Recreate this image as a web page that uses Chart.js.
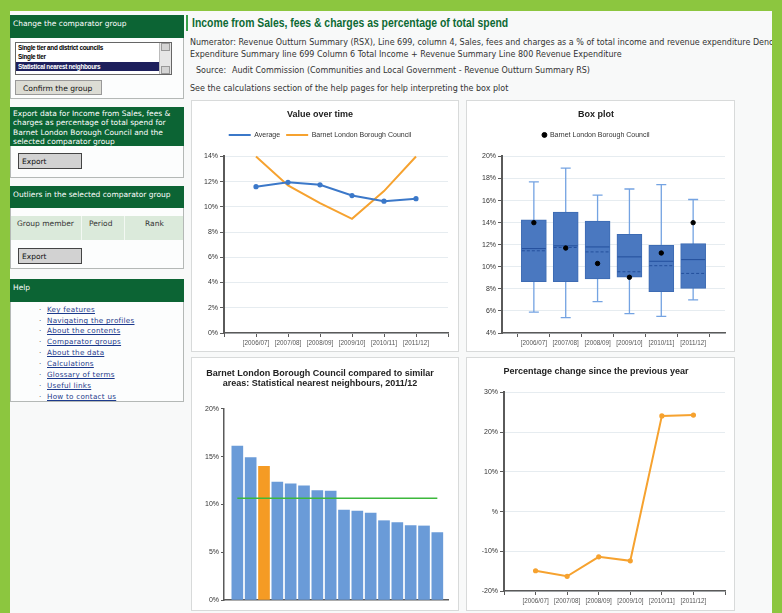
<!DOCTYPE html>
<html lang="en">
<head>
<meta charset="UTF-8">
<title>Income from Sales, fees & charges</title>
<style>
  body {
    margin: 0;
    width: 782px;
    height: 613px;
    background: #8cc63f;
    font-family: 'DejaVu Sans', Verdana, sans-serif;
    position: relative;
    overflow: hidden;
  }
  .page {
    position: absolute;
    left: 10px;
    top: 11px;
    width: 762px;
    height: 602px;
    background: #f8f9f9;
  }
  .side {
    position: absolute;
    left: 10px;
    width: 172px;
    background: #fcfdfd;
    border: 1px solid #b4b8b6;
    border-top: none;
  }
  .side .hd {
    background: #0c6434;
    color: #fff;
    font-size: 7.5px;
    padding: 4px 3px 0 3px;
    line-height: 9.4px;
    box-sizing: border-box;
    margin: 0 -1px;
  }
  .btn {
    position: absolute;
    background: #d2d2d2;
    border: 1px solid #444;
    font-size: 7.5px;
    color: #111;
    box-sizing: border-box;
    padding: 3px 0 0 3px;
  }
  .list {
    position: absolute;
    left: 4px;
    top: 27px;
    width: 157px;
    height: 33px;
    border: 1px solid #666;
    box-sizing: border-box;
    background: #fff;
    font-family: 'Liberation Sans', sans-serif;
    font-weight: bold;
    font-size: 6.4px;
    overflow: hidden;
  }
  .list .item { height: 9.3px; line-height: 9.3px; padding-left: 2px; letter-spacing: -0.3px; }
  .list .sel { background: #1d1f5c; color: #fff; margin-right: 11px; }
  .list .scroll {
    position: absolute; right: 0; top: 0; width: 11px; height: 31px;
    background: #e6e6e6; border-left: 1px solid #bbb;
  }
  .scroll span {
    position: absolute; left: 1px; width: 9px; height: 8px; background: #d4d4d4;
    border: 1px solid #999; box-sizing: border-box;
  }
  .help a {
    position: absolute;
    left: 36px;
    color: #1c3a8c;
    font-size: 7.2px;
    letter-spacing: 0.25px;
    text-decoration: underline;
  }
  .help a::before { content: '·'; position: absolute; left: -8px; color: #555; text-decoration: none; }
  .main-title {
    position: absolute;
    left: 186px;
    top: 15px;
    padding-left: 4px;
    border-left: 2px solid #3aa04a;
    font-family: 'Liberation Sans', Arial, sans-serif;
    font-weight: bold;
    font-size: 13px;
    color: #0d6a34;
    line-height: 16px;
    white-space: nowrap;
  }
  .main-title span { display: inline-block; transform: scaleX(0.8); transform-origin: left center; }
  .txt {
    position: absolute;
    left: 190px;
    font-size: 8px;
    color: #333;
    white-space: nowrap;
    line-height: 10px;
  }
  .panel {
    position: absolute;
    background: #fff;
    border: 1px solid #d8dada;
  }
  canvas { display: block; }
</style>
</head>
<body>
<div class="page"></div>

<!-- left column -->
<div class="side" style="top:15px;height:83px;">
  <div class="hd" style="height:23px;">Change the comparator group</div>
  <div class="list">
    <div class="item">Single tier and district councils</div>
    <div class="item">Single tier</div>
    <div class="item sel">Statistical nearest neighbours</div>
    <div class="scroll"><span style="top:0"></span><span style="top:23px"></span></div>
  </div>
  <div class="btn" style="left:4px;top:65px;width:87px;height:15px;border-color:#999;background:#dcdcd4;padding:3px 0 0 7px;font-size:7.6px;">Confirm the group</div>
</div>

<div class="side" style="top:107px;height:70px;">
  <div class="hd" style="height:39px;padding-top:2px;">Export data for Income from Sales, fees &amp; charges as percentage of total spend for Barnet London Borough Council and the selected comparator group</div>
  <div class="btn" style="left:7px;top:46px;width:64px;height:16px;">Export</div>
</div>

<div class="side" style="top:186px;height:82px;">
  <div class="hd" style="height:22px;">Outliers in the selected comparator group</div>
  <div style="position:absolute;left:0;top:30px;width:172px;height:24px;background:#dbeadb;font-size:7.5px;color:#333;">
    <span style="position:absolute;left:6px;top:3px;">Group member</span>
    <span style="position:absolute;left:70px;top:0;width:1px;height:24px;background:#f3f8f3;"></span>
    <span style="position:absolute;left:78px;top:3px;">Period</span>
    <span style="position:absolute;left:113px;top:0;width:1px;height:24px;background:#f3f8f3;"></span>
    <span style="position:absolute;left:134px;top:3px;">Rank</span>
  </div>
  <div class="btn" style="left:7px;top:62px;width:64px;height:16px;">Export</div>
</div>

<div class="side help" style="top:279px;height:122px;">
  <div class="hd" style="height:23px;">Help</div>
  <a style="top:26px">Key features</a>
  <a style="top:37px">Navigating the profiles</a>
  <a style="top:47px">About the contents</a>
  <a style="top:58px">Comparator groups</a>
  <a style="top:69px">About the data</a>
  <a style="top:80px">Calculations</a>
  <a style="top:91px">Glossary of terms</a>
  <a style="top:102px">Useful links</a>
  <a style="top:113px">How to contact us</a>
</div>

<!-- main column -->
<div class="main-title"><span>Income from Sales, fees &amp; charges as percentage of total spend</span></div>
<div class="txt" style="top:38px;width:582px;overflow:hidden;">Numerator: Revenue Outturn Summary (RSX), Line 699, column 4, Sales, fees and charges as a % of total income and revenue expenditure Denominator: Revenue</div>
<div class="txt" style="top:50px;">Expenditure Summary line 699 Column 6 Total Income + Revenue Summary Line 800 Revenue Expenditure</div>
<div class="txt" style="top:66px;left:196px;">Source:</div>
<div class="txt" style="top:66px;left:232px;">Audit Commission (Communities and Local Government - Revenue Outturn Summary RS)</div>
<div class="txt" style="top:84px;">See the calculations section of the help pages for help interpreting the box plot</div>

<div class="panel" style="left:191px;top:100px;"><canvas id="timeChart" width="266" height="250"></canvas></div>
<div class="panel" style="left:466px;top:100px;"><canvas id="boxChart" width="267" height="250"></canvas></div>
<div class="panel" style="left:191px;top:357px;"><canvas id="rankChart" width="266" height="252"></canvas></div>
<div class="panel" style="left:466px;top:357px;"><canvas id="changeChart" width="267" height="252"></canvas></div>

<script src="https://cdn.jsdelivr.net/npm/chart.js"></script>
<script>
  // periods on the x axis
  const years = ['2006/07', '2007/08', '2008/09', '2009/10', '2010/11', '2011/12'];

  // value over time (%)
  const averageValues = [11.6, 11.95, 11.75, 10.9, 10.45, 10.65];
  const barnetValues = [14.0, 11.7, 10.3, 9.05, 11.25, 14.0];

  // box plot (%)
  const boxLow = [5.9, 5.4, 6.85, 5.75, 5.5, 7.0];
  const boxQ1 = [8.65, 8.65, 8.9, 9.05, 7.75, 8.05];
  const boxMedian = [11.65, 11.9, 11.8, 10.9, 10.5, 10.65];
  const boxMean = [11.45, 11.75, 11.35, 9.55, 10.1, 9.4];
  const boxQ3 = [14.25, 14.95, 14.15, 12.95, 11.95, 12.1];
  const boxHigh = [17.7, 18.95, 16.5, 17.05, 17.45, 16.1];

  // nearest neighbours 2011/12 (%)
  const neighbourValues = [16.1, 14.9, 14.0, 12.35, 12.15, 11.95, 11.45, 11.4, 9.4, 9.3, 9.1, 8.3, 8.1, 7.8, 7.75, 7.05];
  const barnetRank = 2;
  const neighbourAverage = 10.65;

  // percentage change since previous year
  const changeValues = [-14.9, -16.3, -11.4, -12.4, 24.1, 24.3];

  const BLUE = '#3b78c9';
  const ORANGE = '#f6a22f';
  const AXIS = '#5a5a5a';
  const GRID = '#e6ecf0';

  Chart.defaults.font.family = "'Liberation Sans', Arial, sans-serif";
  Chart.defaults.color = '#333';
  Chart.defaults.animation = false;

  function fixWidth(w) { return s => { s.width = w; }; }
  function fixHeight(h) { return s => { s.height = h; }; }

  // extra room under the legend
  function legendGap(px) {
    return {
      id: 'legendGap',
      beforeInit(chart) {
        const fit = chart.legend.fit;
        chart.legend.fit = function () {
          fit.bind(chart.legend)();
          this.height += px;
        };
      }
    };
  }

  function yearTick(v) {
    return years[v - 1] ? '[' + years[v - 1] + ']' : '';
  }

  function xYears(h) {
    return {
      type: 'linear', min: 0, max: 7, offset: false,
      afterFit: fixHeight(h),
      ticks: { stepSize: 1, autoSkip: false, maxRotation: 0, callback: yearTick,
               font: { size: 6.3 }, color: '#555', padding: 2 },
      grid: { drawOnChartArea: false, tickLength: 4, tickColor: AXIS },
      border: { color: AXIS, width: 1.5 }
    };
  }

  function yPercent(w, min, max, step, fmt) {
    return {
      min: min, max: max,
      afterFit: fixWidth(w),
      ticks: { stepSize: step, callback: fmt || (v => v + '%'), font: { size: 7 }, color: '#333', padding: 2 },
      grid: { color: GRID, tickLength: 4, tickColor: AXIS },
      border: { color: AXIS, width: 2 }
    };
  }

  function titleOpts(text, top, bottom) {
    return { display: true, text: text, color: '#222', font: { size: 9, weight: 'bold', lineHeight: 1.05 },
             padding: { top: top, bottom: bottom } };
  }

  // ---------- value over time ----------
  new Chart(document.getElementById('timeChart'), {
    type: 'line',
    data: {
      datasets: [
        { label: 'Average', data: averageValues.map((v, i) => ({ x: i + 1, y: v })),
          borderColor: BLUE, backgroundColor: BLUE, borderWidth: 2, pointRadius: 1.6, clip: false },
        { label: 'Barnet London Borough Council', data: barnetValues.map((v, i) => ({ x: i + 1, y: v })),
          borderColor: ORANGE, backgroundColor: ORANGE, borderWidth: 2, pointRadius: 0, clip: false }
      ]
    },
    options: {
      responsive: false,
      layout: { padding: { left: 0, right: 10, top: 0, bottom: 0 } },
      plugins: {
        title: titleOpts('Value over time', 9, 6),
        legend: { labels: { usePointStyle: true, pointStyle: 'line', pointStyleWidth: 22, font: { size: 7 },
                            color: '#333', padding: 6 } },
        tooltip: { enabled: false }
      },
      scales: { x: xYears(18), y: yPercent(32, 0, 14, 2) }
    },
    plugins: [legendGap(8)]
  });

  // ---------- box plot ----------
  const boxPlugin = {
    id: 'boxParts',
    beforeDatasetsDraw(chart) {
      const { ctx, scales: { x, y } } = chart;
      ctx.save();
      ctx.strokeStyle = '#74a3e2';
      ctx.lineWidth = 1.3;
      boxLow.forEach((lo, i) => {
        const cx = x.getPixelForValue(i + 1);
        ctx.beginPath();
        ctx.moveTo(cx, y.getPixelForValue(lo));
        ctx.lineTo(cx, y.getPixelForValue(boxHigh[i]));
        ctx.moveTo(cx - 5, y.getPixelForValue(lo));
        ctx.lineTo(cx + 5, y.getPixelForValue(lo));
        ctx.moveTo(cx - 5, y.getPixelForValue(boxHigh[i]));
        ctx.lineTo(cx + 5, y.getPixelForValue(boxHigh[i]));
        ctx.stroke();
      });
      ctx.restore();
    },
    afterDatasetDraw(chart, args) {
      if (args.index !== 1) return;
      const { ctx, scales: { x, y } } = chart;
      ctx.save();
      ctx.strokeStyle = '#234f9c';
      ctx.lineWidth = 1;
      boxMedian.forEach((m, i) => {
        const cx = x.getPixelForValue(i + 1);
        ctx.setLineDash([]);
        ctx.beginPath();
        ctx.moveTo(cx - 12, y.getPixelForValue(m));
        ctx.lineTo(cx + 12, y.getPixelForValue(m));
        ctx.stroke();
        ctx.setLineDash([3, 2]);
        ctx.beginPath();
        ctx.moveTo(cx - 12, y.getPixelForValue(boxMean[i]));
        ctx.lineTo(cx + 12, y.getPixelForValue(boxMean[i]));
        ctx.stroke();
      });
      ctx.restore();
    }
  };

  new Chart(document.getElementById('boxChart'), {
    type: 'bar',
    data: {
      datasets: [
        { type: 'line', label: 'Barnet London Borough Council', order: 0,
          data: barnetValues.map((v, i) => ({ x: i + 1, y: v })),
          showLine: false, pointRadius: 2.2, pointBackgroundColor: '#000', pointBorderColor: '#000',
          backgroundColor: '#000', borderColor: '#000' },
        { label: 'box', order: 1,
          data: boxQ1.map((q, i) => ({ x: i + 1, y: [q, boxQ3[i]] })),
          backgroundColor: '#4a78c0', borderColor: '#3d6bb3', borderWidth: 1, borderSkipped: false,
          barThickness: 25 }
      ]
    },
    options: {
      responsive: false,
      layout: { padding: { left: 0, right: 9, top: 0, bottom: 0 } },
      plugins: {
        title: titleOpts('Box plot', 9, 6),
        legend: { labels: { usePointStyle: true, pointStyle: 'circle', boxHeight: 3.5, boxWidth: 4, font: { size: 7 },
                            color: '#333', padding: 6, filter: item => item.text !== 'box' } },
        tooltip: { enabled: false }
      },
      scales: { x: xYears(18), y: yPercent(35, 4, 20, 2) }
    },
    plugins: [legendGap(8), boxPlugin]
  });

  // ---------- nearest neighbours ----------
  new Chart(document.getElementById('rankChart'), {
    type: 'bar',
    data: {
      datasets: [
        { type: 'line', label: 'Average', order: 0,
          data: [{ x: 0, y: neighbourAverage }, { x: neighbourValues.length - 1, y: neighbourAverage }],
          borderColor: '#3cb83c', borderWidth: 1.6, pointRadius: 0 },
        { label: 'Neighbours', order: 1,
          data: neighbourValues.map((v, i) => ({ x: i, y: v })),
          backgroundColor: neighbourValues.map((v, i) => i === barnetRank ? '#f59b24' : '#6a9bd8'),
          barThickness: 11 }
      ]
    },
    options: {
      responsive: false,
      layout: { padding: { left: 0, right: 10, top: 0, bottom: 0 } },
      plugins: {
        title: titleOpts(['Barnet London Borough Council compared to similar', 'areas: Statistical nearest neighbours, 2011/12'], 11, 21),
        legend: { display: false },
        tooltip: { enabled: false }
      },
      scales: {
        x: { type: 'linear', min: -1, max: 15.8, offset: false, afterFit: fixHeight(10),
             ticks: { display: false }, grid: { display: false },
             border: { color: AXIS, width: 1.5 } },
        y: { min: 0, max: 20, afterFit: fixWidth(32),
             ticks: { stepSize: 5, callback: v => v + '%', font: { size: 7 }, color: '#333', padding: 2 },
             grid: { drawOnChartArea: false, tickLength: 3, tickColor: AXIS },
             border: { color: AXIS, width: 1.5 } }
      }
    }
  });

  // ---------- percentage change ----------
  new Chart(document.getElementById('changeChart'), {
    type: 'line',
    data: {
      datasets: [
        { label: 'Change', data: changeValues.map((v, i) => ({ x: i + 1, y: v })),
          borderColor: ORANGE, backgroundColor: ORANGE, borderWidth: 2, pointRadius: 1.6 }
      ]
    },
    options: {
      responsive: false,
      layout: { padding: { left: 0, right: 9, top: 0, bottom: 0 } },
      plugins: {
        title: titleOpts('Percentage change since the previous year', 9, 16),
        legend: { display: false },
        tooltip: { enabled: false }
      },
      scales: { x: xYears(19), y: yPercent(37, -20, 30, 10, v => (v === 0 ? '' : v) + '%') }
    }
  });
</script>
</body>
</html>
